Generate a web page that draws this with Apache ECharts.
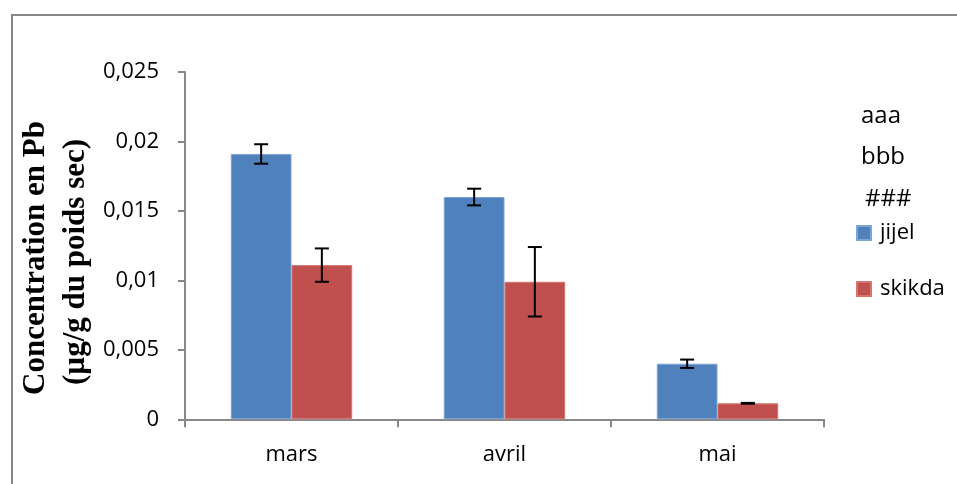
<!DOCTYPE html>
<html>
<head>
<meta charset="utf-8">
<script src="https://cdn.jsdelivr.net/npm/echarts@6/dist/echarts.min.js"></script>
<style>
html,body{margin:0;padding:0;background:#fff;}
#chart{width:957px;height:484px;}
</style>
</head>
<body>
<div id="chart"></div>
<script>
var categories = ['mars', 'avril', 'mai'];
var jijelValues = [0.0191, 0.016, 0.004];
var jijelErrors = [0.0007, 0.0006, 0.0003];
var skikdaValues = [0.0111, 0.0099, 0.00115];
var skikdaErrors = [0.0012, 0.0025, 0.00003];
var seriesNames = ['jijel', 'skikda'];
var extraLegendTexts = ['aaa', 'bbb', '###'];
var yTickLabels = ['0', '0,005', '0,01', '0,015', '0,02', '0,025'];

var BAR_GAP = 0.43;
var chart = echarts.init(document.getElementById('chart'));

function errorSeries(values, errors, idx) {
  return {
    type: 'custom',
    name: seriesNames[idx] + '_err',
    z: 10,
    silent: true,
    data: values.map(function (v, i) { return [i, v - errors[i], v + errors[i]]; }),
    renderItem: function (params, api) {
      var band = api.size([1, 0])[0];
      var barW = band * (1 - BAR_GAP) / 2;
      var off = idx === 0 ? -barW / 2 : barW / 2;
      var lo = api.coord([api.value(0), api.value(1)]);
      var hi = api.coord([api.value(0), api.value(2)]);
      var x = lo[0] + off;
      var cap = 7;
      var st = { stroke: '#000', lineWidth: 2 };
      return {
        type: 'group',
        children: [
          { type: 'line', shape: { x1: x, y1: lo[1], x2: x, y2: hi[1] }, style: st },
          { type: 'line', shape: { x1: x - cap, y1: lo[1], x2: x + cap, y2: lo[1] }, style: st },
          { type: 'line', shape: { x1: x - cap, y1: hi[1], x2: x + cap, y2: hi[1] }, style: st }
        ]
      };
    }
  };
}

var labelFont = 'Open Sans';
var FS = 22;
var graphics = [
  { type: 'polyline', shape: { points: [[12, 484], [12, 15], [957, 15]] }, style: { stroke: '#878787', lineWidth: 2, fill: null } },
  { type: 'text', x: 36, y: 258, rotation: Math.PI / 2, style: { text: 'Concentration en Pb', font: 'bold 31px "Liberation Serif"', fill: '#000', textAlign: 'center', textVerticalAlign: 'middle' } },
  { type: 'text', x: 76, y: 262, rotation: Math.PI / 2, style: { text: '(µg/g du poids sec)', font: 'bold 31px "Liberation Serif"', fill: '#000', textAlign: 'center', textVerticalAlign: 'middle' } }
];
var extraY = [116, 157, 199];
var extraX = [861, 861, 865];
extraLegendTexts.forEach(function (t, i) {
  graphics.push({ type: 'text', x: extraX[i], y: extraY[i], style: { text: t, font: '24px "' + labelFont + '"', fill: '#000', textVerticalAlign: 'middle' } });
});

chart.setOption({
  animation: false,
  backgroundColor: '#fff',
  grid: { left: 185, right: 133, top: 72, bottom: 64.7, containLabel: false },
  legend: {
    data: seriesNames,
    orient: 'vertical',
    left: 856,
    top: 222,
    itemWidth: 14,
    itemHeight: 14,
    itemGap: 34,
    icon: 'rect',
    textStyle: { fontFamily: labelFont, fontSize: FS, color: '#000', padding: [0, 0, 0, 4] },
    padding: 0
  },
  xAxis: {
    type: 'category',
    data: categories,
    axisLine: { lineStyle: { color: '#888', width: 2 } },
    axisTick: { show: true, length: 8, alignWithLabel: false, lineStyle: { color: '#888', width: 2 } },
    axisLabel: { margin: 24, fontFamily: labelFont, fontSize: FS, color: '#000' },
    splitLine: { show: false }
  },
  yAxis: {
    type: 'value',
    min: 0,
    max: 0.025,
    interval: 0.005,
    axisLine: { show: true, lineStyle: { color: '#888', width: 2 } },
    axisTick: { show: true, length: 7, lineStyle: { color: '#888', width: 2 } },
    axisLabel: {
      margin: 26, fontFamily: labelFont, fontSize: FS, color: '#000',
      formatter: function (v) { return yTickLabels[Math.round(v / 0.005)]; }
    },
    splitLine: { show: false }
  },
  series: [
    { type: 'bar', name: seriesNames[0], data: jijelValues, barGap: '0%', barCategoryGap: (BAR_GAP * 100) + '%', itemStyle: { color: '#4F81BD', borderColor: '#7fa3d2', borderWidth: 1 } },
    { type: 'bar', name: seriesNames[1], data: skikdaValues, barGap: '0%', barCategoryGap: (BAR_GAP * 100) + '%', itemStyle: { color: '#C0504D', borderColor: '#d57572', borderWidth: 1 } },
    errorSeries(jijelValues, jijelErrors, 0),
    errorSeries(skikdaValues, skikdaErrors, 1)
  ],
  graphic: graphics
});
</script>
</body>
</html>
